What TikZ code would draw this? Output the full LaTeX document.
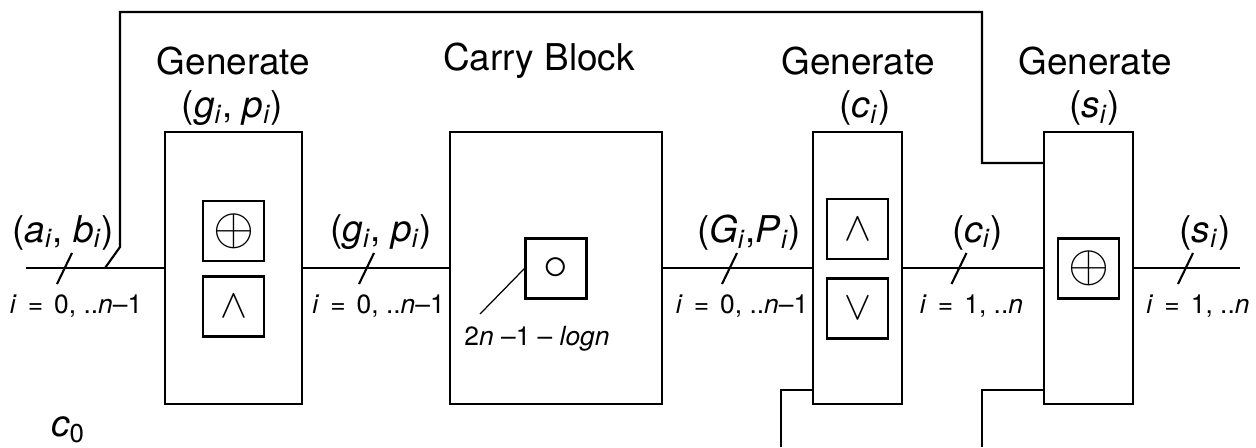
\documentclass[tikz,border=0pt]{standalone}
\usepackage{amsmath}
\usepackage{fontspec}
\setmainfont{TeX Gyre Heros}
\usepackage{tikz}
\newcommand{\vsub}[2]{\textit{#1}\textsubscript{\textit{#2}}}
\newcommand{\eqsp}{\hspace{0.42em}}

\begin{document}
\begin{tikzpicture}[x=0.02cm, y=-0.02cm,
        block/.style={shape=rectangle, draw, line width=1.2pt, minimum height=5.44cm},
        opbox/.style={shape=rectangle, draw, line width=1.2pt, minimum width=1.22cm, minimum height=1.2cm, inner sep=0pt},
        wire/.style={line width=1.2pt},
        big/.style={font=\fontsize{21}{25}\selectfont},
        small/.style={font=\fontsize{15}{18}\selectfont}]
        	\useasboundingbox (0,0) rectangle (1256,447);
        	% Blocks and their operators:
        	\node[block, minimum width=2.74cm](GP) at (233.5, 268){};
        	\node[block, minimum width=4.24cm](CB) at (556, 268){};
        	\node[block, minimum width=1.78cm](CG) at (857.5, 268){};
        	\node[block, minimum width=1.78cm](SG) at (1088.5, 268){};
        	\node[opbox](GPX) at (233.5, 231){\scalebox{3}{$\oplus$}};
        	\node[opbox](GPA) at (233.5, 306.5){\scalebox{2.3}{$\wedge$}};
        	\node[opbox](CBO) at (556, 268.5){\scalebox{2.8}{$\circ$}};
        	\node[opbox](CGA) at (857.5, 229){\scalebox{2.3}{$\wedge$}};
        	\node[opbox](CGO) at (857.5, 308.5){\scalebox{2.3}{$\vee$}};
        	\node[opbox](SGX) at (1088.5, 268.5){\scalebox{3}{$\oplus$}};
        	% Titles:
        	\node[big](T1) at (233.5, 61){Generate};
        	\node[big](T1s) at (232.5, 108){(\vsub{g}{i}, \vsub{p}{i})};
        	\node[big](T2) at (539, 61){Carry Block};
        	\node[big](T3) at (858, 61){Generate};
        	\node[big](T3s) at (865, 108){(\vsub{c}{i})};
        	\node[big](T4) at (1095, 61){Generate};
        	\node[big](T4s) at (1094.5, 108){(\vsub{s}{i})};
        	% Paths and wires:
        	\coordinate (IN) at (26, 268);
        	\coordinate (OUT) at (1240, 268);
        	\coordinate (TAP) at (105, 268);
        	\coordinate (BC) at (781, 447);
        	\coordinate (BS) at (982, 447);
        	\draw[wire] (IN) -- (GP.west);
        	\draw[wire] (GP.east) -- (CB.west);
        	\draw[wire] (CB.east) -- (CG.west);
        	\draw[wire] (CG.east) -- (SG.west);
        	\draw[wire] (SG.east) -- (OUT);
        	\draw[wire] (TAP) -- ++(15, -21) |- (982, 12) |- (SG.west |- 0, 163);
        	\draw[wire] (BC) |- (CG.west |- 0, 390);
        	\draw[wire] (BS) |- (SG.west |- 0, 390);
        	\foreach \sx in {64.5, 366.5, 729.5, 959, 1185.5}
        		\draw[wire] (\sx, 268) ++(-7.5, 16) -- ++(15, -31);
        	% Signal labels:
        	\node[big](L1) at (63, 232.5){(\vsub{a}{i}, \vsub{b}{i})};
        	\node[big](L2) at (381, 232.5){(\vsub{g}{i}, \vsub{p}{i})};
        	\node[big](L3) at (749, 232.5){(\vsub{G}{i},\vsub{P}{i})};
        	\node[big](L4) at (977.5, 232.5){(\vsub{c}{i})};
        	\node[big](L5) at (1205, 232.5){(\vsub{s}{i})};
        	\node[small](R1) at (76, 306.5){\textit{i}\eqsp=\eqsp0, ..\textit{n}--1};
        	\node[small](R2) at (378.5, 306.5){\textit{i}\eqsp=\eqsp0, ..\textit{n}--1};
        	\node[small](R3) at (742, 306.5){\textit{i}\eqsp=\eqsp0, ..\textit{n}--1};
        	\node[small](R4) at (971.5, 306.5){\textit{i}\eqsp=\eqsp1, ..\textit{n}};
        	\node[small](R5) at (1198, 306.5){\textit{i}\eqsp=\eqsp1, ..\textit{n}};
        	\node[small](LN) at (537, 339){2\textit{n} --1 -- \textit{logn}};
        	\coordinate (LE) at (480, 314);
        	\draw[line width=0.7pt] (CBO.west) -- (LE);
        	\node[font=\fontsize{21}{24}\selectfont](C0) at (68, 430){\textit{c}\textsubscript{0}};
        \end{tikzpicture}
\end{document}
